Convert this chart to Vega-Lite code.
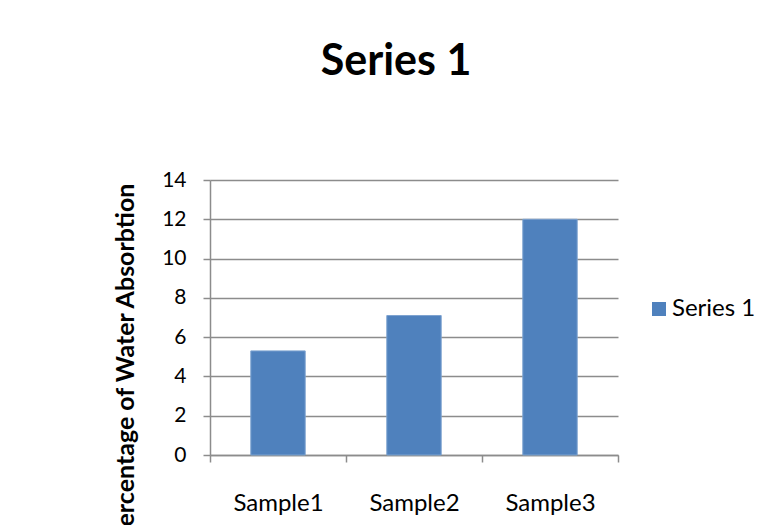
{
  "$schema": "https://vega.github.io/schema/vega-lite/v6.json",
  "width": 408,
  "height": 275,
  "autosize": {"type": "none"},
  "padding": {"left": 210, "top": 180, "right": 153, "bottom": 70},
  "background": "white",
  "title": {
    "text": "Series 1",
    "font": "Lato",
    "fontSize": 43,
    "fontWeight": "bold",
    "color": "black",
    "anchor": "middle",
    "frame": "group",
    "dx": -18,
    "baseline": "alphabetic",
    "offset": 51
  },
  "data": {
    "values": [
      {"sample": "Sample1", "value": 5.3, "series": "Series 1"},
      {"sample": "Sample2", "value": 7.1, "series": "Series 1"},
      {"sample": "Sample3", "value": 12, "series": "Series 1"}
    ]
  },
  "mark": {"type": "bar", "width": {"band": 0.4}, "stroke": "#7DA3D0", "strokeWidth": 1},
  "encoding": {
    "x": {
      "field": "sample",
      "type": "nominal",
      "sort": null,
      "scale": {"paddingInner": 0, "paddingOuter": 0},
      "axis": {
        "title": null,
        "labelAngle": 0,
        "tickBand": "extent",
        "tickSize": 7,
        "tickWidth": 1.5,
        "tickColor": "#8c8c8c",
        "domainColor": "#8c8c8c",
        "domainWidth": 1.5,
        "labelFont": "Lato",
        "labelFontSize": 24,
        "labelColor": "black",
        "labelBaseline": "alphabetic",
        "labelPadding": 48,
        "grid": false
      }
    },
    "y": {
      "field": "value",
      "type": "quantitative",
      "scale": {"domain": [0, 14]},
      "axis": {
        "values": [0, 2, 4, 6, 8, 10, 12, 14],
        "title": "Percentage of Water Absorbtion",
        "titleFont": "Lato",
        "titleFontSize": 25,
        "titleFontWeight": "bold",
        "titleColor": "black",
        "titleAngle": -90,
        "titleAlign": "center",
        "titleBaseline": "alphabetic",
        "titleX": -77,
        "titleY": 182,
        "tickSize": 7,
        "tickWidth": 1.5,
        "tickColor": "#8c8c8c",
        "domainColor": "#8c8c8c",
        "domainWidth": 1.5,
        "gridColor": "#8c8c8c",
        "gridWidth": 1.5,
        "labelFont": "Lato",
        "labelFontSize": 21,
        "labelColor": "black",
        "labelPadding": 17
      }
    },
    "color": {
      "field": "series",
      "type": "nominal",
      "scale": {"range": ["#4F81BD"]},
      "legend": {
        "title": null,
        "orient": "none",
        "legendX": 437,
        "legendY": 117,
        "padding": 0,
        "symbolType": "square",
        "symbolSize": 196,
        "symbolStrokeWidth": 0,
        "labelFont": "Lato",
        "labelFontSize": 24,
        "labelColor": "black",
        "labelOffset": 1
      }
    }
  },
  "config": {"view": {"stroke": null}}
}
